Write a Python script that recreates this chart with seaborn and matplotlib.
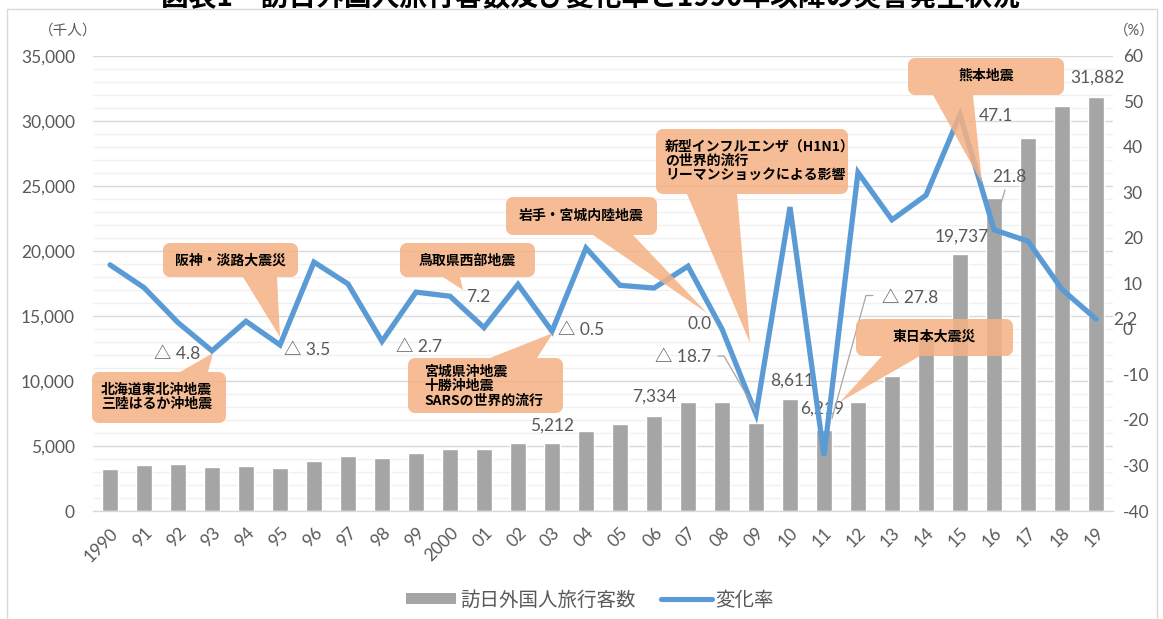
import numpy as np
import pandas as pd
import matplotlib
matplotlib.use("Agg")
import matplotlib.pyplot as plt
import seaborn as sns
from matplotlib.patches import Polygon, Rectangle, Patch
from matplotlib.lines import Line2D
from matplotlib.transforms import IdentityTransform

# ---------------- data ----------------
years = ['1990', '91', '92', '93', '94', '95', '96', '97', '98', '99',
         '2000', '01', '02', '03', '04', '05', '06', '07', '08', '09',
         '10', '11', '12', '13', '14', '15', '16', '17', '18', '19']
visitors = [3236, 3533, 3582, 3410, 3468, 3345, 3837, 4218, 4106, 4438,
            4757, 4772, 5239, 5212, 6138, 6728, 7334, 8347, 8351, 6790,
            8611, 6219, 8358, 10364, 13413, 19737, 24040, 28691, 31192, 31882]
change = [14.1, 9.1, 1.4, -4.8, 1.7, -3.5, 14.7, 9.9, -2.7, 8.1,
          7.2, 0.3, 9.8, -0.5, 17.8, 9.6, 9.0, 13.8, 0.0, -18.7,
          26.8, -27.8, 34.4, 24.0, 29.4, 47.1, 21.8, 19.3, 8.7, 2.2]
bar_label_years = ['03', '06', '10', '11', '15', '19']
line_label_years = ['93', '95', '98', '2000', '03', '08', '09', '11', '15', '16', '19']
left_ticks = [0, 5000, 10000, 15000, 20000, 25000, 30000, 35000]
right_ticks = [-40, -30, -20, -10, 0, 10, 20, 30, 40, 50, 60]
title = "図表1　訪日外国人旅行客数及び変化率と1990年以降の災害発生状況"
events = [
    "北海道東北沖地震\n三陸はるか沖地震",
    "阪神・淡路大震災",
    "鳥取県西部地震",
    "宮城県沖地震\n十勝沖地震\nSARSの世界的流行",
    "岩手・宮城内陸地震",
    "新型インフルエンザ（H1N1）\nの世界的流行\nリーマンショックによる影響",
    "熊本地震",
    "東日本大震災",
]

df = pd.DataFrame({"year": years, "visitors": visitors, "change": change,
                   "pos": np.arange(len(years))})

# ---------------- style ----------------
sns.set_theme(style="white")
plt.rcParams['font.family'] = ['Lato', 'Noto Sans CJK JP', 'DejaVu Sans']
GRAY_TXT = '#595959'
BAR = '#A5A5A5'
LINE = '#5B9BD5'
BOX = '#F4B183'

W, H = 1163, 619
fig = plt.figure(figsize=(W / 100, H / 100), dpi=100)
fig.patch.set_facecolor('white')


def fx(x):
    return x / W


def fy(y):
    return 1 - y / H


ax = fig.add_axes([fx(93), fy(511), 1020 / W, 455 / H])
ax2 = ax.twinx()
ax.set_zorder(1)
ax2.set_zorder(2)
ax.patch.set_visible(False)
ax2.patch.set_visible(False)

sns.barplot(data=df, x="year", y="visitors", order=years, ax=ax, color=BAR,
            saturation=1, width=0.47, zorder=2)
sns.lineplot(data=df, x="pos", y="change", ax=ax2, color=LINE, lw=3.8,
             sort=False, zorder=3, solid_joinstyle='miter')

for a in (ax, ax2):
    a.set_xlim(-0.5, len(years) - 0.5)
    a.set_xlabel('')
    a.set_ylabel('')
    for s in a.spines.values():
        s.set_visible(False)
ax.set_ylim(0, 35000)
ax2.set_ylim(-40, 60)

ax.spines['bottom'].set_visible(True)
ax.spines['bottom'].set_color('#D9D9D9')
ax.spines['bottom'].set_linewidth(1)

ax.set_yticks(left_ticks)
ax.set_yticklabels([f"{v:,}" for v in left_ticks])
ax.set_yticks(np.arange(0, 35001, 1000), minor=True)
ax.grid(which='major', axis='y', color='#D9D9D9', lw=1, zorder=0)
ax.grid(which='minor', axis='y', color='#F0F0F0', lw=1, zorder=0)
ax.grid(False, axis='x')
ax.tick_params(axis='y', which='both', length=0, pad=13, labelsize=12.5,
               labelcolor=GRAY_TXT)

ax2.set_yticks(right_ticks)
ax2.set_yticklabels([str(v) for v in right_ticks])
ax2.grid(False)
ax2.tick_params(axis='y', length=0, pad=7, labelsize=12.5, labelcolor=GRAY_TXT)
ax2.tick_params(axis='x', which='both', length=0, labelbottom=False)

ax.set_xticks(range(len(years)))
ax.set_xticklabels(years, rotation=45, ha='right', rotation_mode='anchor')
ax.set_xticks(np.arange(-0.5, len(years), 1), minor=True)
ax.tick_params(axis='x', which='major', length=0, pad=10, labelsize=12.5,
               labelcolor=GRAY_TXT)
ax.tick_params(axis='x', which='minor', length=6, color='#D9D9D9', width=1)

# axis unit labels
fig.text(fx(68), fy(31), "（千人）", ha='center', va='center', fontsize=10.5,
         color=GRAY_TXT)
fig.text(fx(1134), fy(31), "（%）", ha='center', va='center', fontsize=10.5,
         color=GRAY_TXT)

# ---------------- data labels ----------------
bar_offsets = {'03': (0, 18), '06': (0, 19), '10': (2, 18), '11': (-2, 22),
               '15': (2, 18), '19': (1, 19)}
for y in bar_label_years:
    i = years.index(y)
    ax.annotate(f"{visitors[i]:,}", xy=(i, visitors[i]), xytext=bar_offsets[y],
                textcoords='offset pixels', ha='center', va='center',
                fontsize=12.5, color=GRAY_TXT, zorder=5)


def fmt_change(v):
    return f"△ {abs(v):.1f}" if v < 0 else f"{v:.1f}"


line_offsets = {'93': (-35, -3), '95': (27, -5), '98': (37, -6),
                '2000': (28, -1), '03': (29, 1), '08': (-22, 5),
                '09': (-73, 57), '11': (86, 157), '15': (36, -1),
                '16': (15, 53), '19': (29, -1)}
for y in line_label_years:
    i = years.index(y)
    ax2.annotate(fmt_change(change[i]), xy=(i, change[i]),
                 xytext=line_offsets[y], textcoords='offset pixels',
                 ha='center', va='center', fontsize=12.5, color=GRAY_TXT,
                 zorder=6)

# leader lines (offsets in pixels relative to the point, y up)
leaders = {'09': [(-38, 58), (-32, 58), (0, 3)],
           '11': [(49, 160), (42, 160), (8, 37)],
           '16': [(11, 40), (4, 16)]}
fig.canvas.draw()
for y, pts in leaders.items():
    i = years.index(y)
    px, py = ax2.transData.transform((i, change[i]))
    xs = [px + dx for dx, dy in pts]
    ys = [py + dy for dx, dy in pts]
    fig.add_artist(Line2D(xs, ys, transform=IdentityTransform(),
                          color='#A6A6A6', lw=0.9, zorder=6))


# ---------------- callouts ----------------
def callout(x0, y0, x1, y1, edge, b0, b1, tip, r=7):
    pts = []

    def arc(cx, cy, a0, a1):
        for t in np.linspace(np.radians(a0), np.radians(a1), 8):
            pts.append((cx + r * np.cos(t), cy + r * np.sin(t)))

    arc(x0 + r, y0 + r, 180, 270)
    if edge == 'top':
        pts.extend([(b0, y0), tip, (b1, y0)])
    arc(x1 - r, y0 + r, 270, 360)
    arc(x1 - r, y1 - r, 0, 90)
    if edge == 'bottom':
        pts.extend([(b1, y1), tip, (b0, y1)])
    arc(x0 + r, y1 - r, 90, 180)
    verts = [(fx(x), fy(y)) for x, y in pts]
    fig.add_artist(Polygon(verts, closed=True, transform=fig.transFigure,
                           facecolor=BOX, edgecolor='none', alpha=0.85,
                           zorder=10))


boxes = [
    # box (x0, y0, x1, y1), edge, base, tip, text anchor, align
    ((92, 372, 226, 423), 'top', (180, 208), (213, 353), (101, 397), 'left'),
    ((163, 243, 298, 277), 'bottom', (243, 277), (280, 337), (230, 261), 'center'),
    ((400, 243, 535, 277), 'bottom', (443, 460), (463, 290), (467, 261), 'center'),
    ((408, 358, 563, 413), 'top', (490, 537), (553, 333), (424, 386), 'left'),
    ((506, 197, 657, 235), 'bottom', (593, 633), (707, 313), (581, 216), 'center'),
    ((656, 129, 848, 194), 'bottom', (687, 737), (750, 343), (665, 161), 'left'),
    ((908, 58, 1064, 95), 'bottom', (933, 973), (982, 183), (986, 76), 'center'),
    ((856, 319, 1013, 356), 'bottom', (882, 920), (840, 402), (934, 337), 'center'),
]
for (bx, edge, base, tip, tpos, align), label in zip(boxes, events):
    callout(*bx, edge, base[0], base[1], tip)
    fig.text(fx(tpos[0]), fy(tpos[1]), label, ha=align, va='center',
             multialignment='left', fontsize=10, fontweight='bold',
             color='black', linespacing=1.05,
             family=['Noto Sans CJK JP', 'DejaVu Sans'], zorder=11)

# ---------------- legend ----------------
handles = [Patch(facecolor=BAR, edgecolor='none'),
           Line2D([], [], color=LINE, lw=3.7)]
fig.legend(handles, ["訪日外国人旅行客数", "変化率"], loc='center',
           bbox_to_anchor=(fx(590), fy(600)), ncol=2, frameon=False,
           labelcolor=GRAY_TXT, handlelength=2.6,
           handleheight=0.5, columnspacing=1.3, handletextpad=0.2,
           prop={'family': ['Noto Sans CJK JP', 'DejaVu Sans'], 'size': 14})

# ---------------- frame and cut-off title ----------------
fig.add_artist(Rectangle((fx(7), fy(640)), fx(1157) - fx(7), fy(9) - fy(640),
                         transform=fig.transFigure, fill=False,
                         edgecolor='#D9D9D9', lw=1, zorder=0))
fig.text(fx(590), fy(5), title, ha='center', va='baseline', fontsize=20,
         fontweight='bold', color='black',
         family=['Noto Sans CJK JP', 'DejaVu Sans'])

fig.savefig("out.png", dpi=100, facecolor='white')
